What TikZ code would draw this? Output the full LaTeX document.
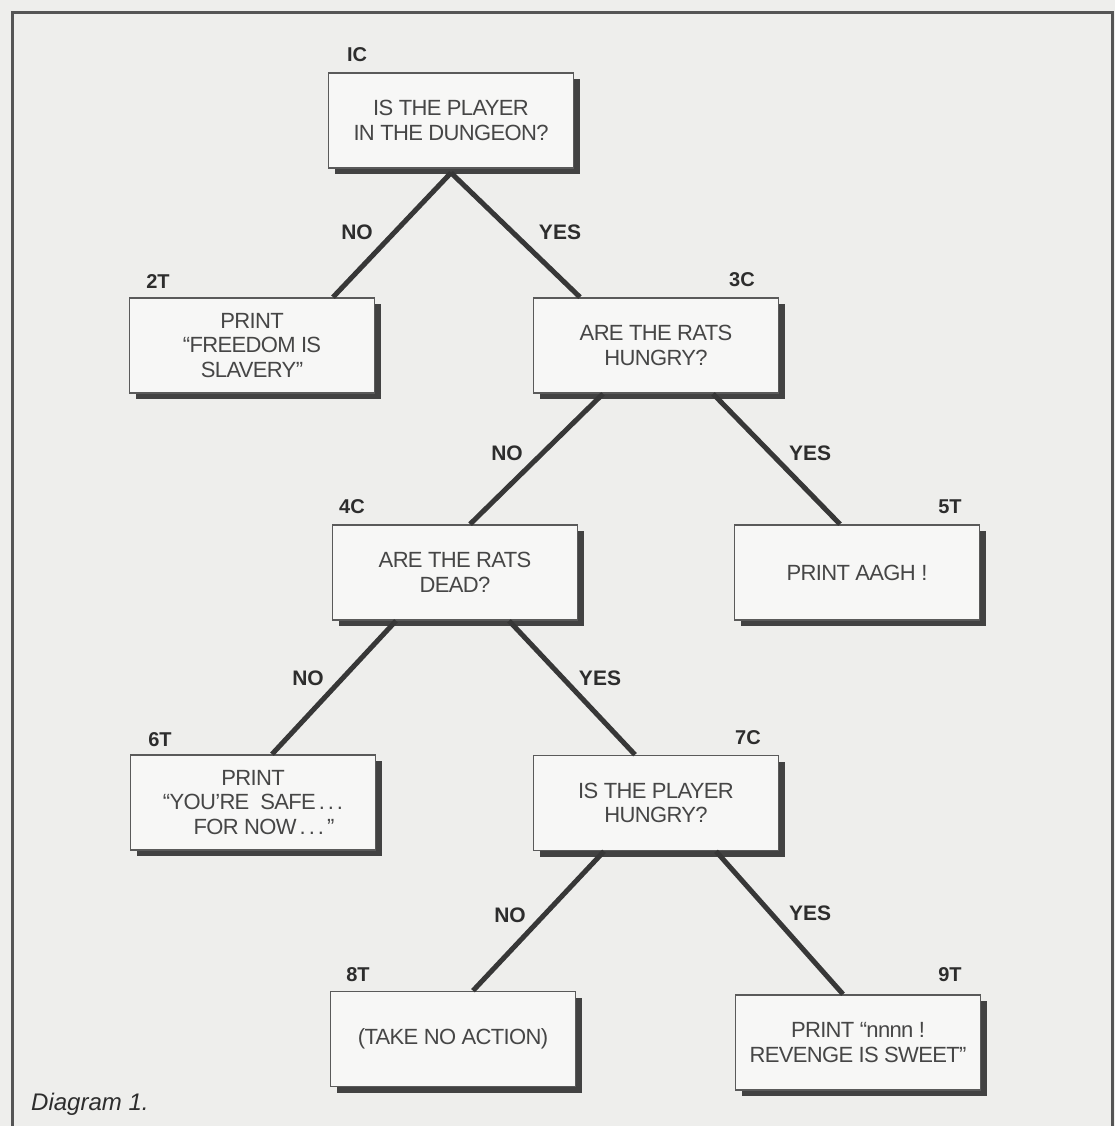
\documentclass[tikz,border=0pt]{standalone}
\usepackage{fontspec}
\setmainfont{Liberation Sans}
\usetikzlibrary{shadows}
\definecolor{bg}{RGB}{238,238,236}
\definecolor{boxfill}{RGB}{247,247,246}
\definecolor{boxline}{RGB}{90,90,90}
\definecolor{shade}{RGB}{66,66,66}
\definecolor{lin}{RGB}{55,55,55}
\definecolor{txt}{RGB}{70,70,70}
\definecolor{lab}{RGB}{45,45,45}
\definecolor{framec}{RGB}{85,85,85}
\newcommand{\dts}{\hspace{3pt}.\hspace{3pt}.\hspace{3pt}.}
\begin{document}
\begin{tikzpicture}[x=1pt,y=-1pt,
  box/.style={draw=boxline, line width=1.6pt, fill=boxfill,
    minimum width=245pt, minimum height=95pt, inner sep=0pt, align=center,
    font=\fontsize{22}{24.5}\selectfont\addfontfeature{LetterSpace=-3}, text=txt,
    drop shadow={shadow xshift=6pt, shadow yshift=-6pt, fill=shade, opacity=1}},
  idlab/.style={font=\fontsize{20}{22}\selectfont\bfseries, text=lab, inner sep=0pt},
  anslab/.style={font=\fontsize{21}{23}\selectfont\bfseries, text=lab, inner sep=0pt},
  conn/.style={draw=lin, line width=5pt},
  framel/.style={draw=framec, line width=3pt}]
\useasboundingbox (0,0) rectangle (1115,1126);
\fill[bg] (0,0) rectangle (1115,1126);
\draw[framel] (12,1140) -- (12,13) -- (1112,13) -- (1112,1140);

% boxes
\node[box] (ic) at (451,120.5) {IS THE PLAYER\\IN THE DUNGEON?};
\node[box] (n2t) at (252,345.5) {PRINT\\“FREEDOM IS\\SLAVERY”};
\node[box] (n3c) at (656,345.5) {ARE THE RATS\\HUNGRY?};
\node[box] (n4c) at (455,572.5) {ARE THE RATS\\DEAD?};
\node[box] (n5t) at (857,572.5) {PRINT AAGH !};
\node[box] (n6t) at (253,802.5) {PRINT\\“YOU'RE\ \ SAFE\dts\\\hspace*{22pt}FOR NOW\dts\hspace{3pt}”};
\node[box] (n7c) at (656,803) {IS THE PLAYER\\HUNGRY?};
\node[box] (n8t) at (453,1039) {(TAKE NO ACTION)};
\node[box] (n9t) at (858,1042.5) {PRINT “nnnn !\\REVENGE IS SWEET”};

% connectors
\coordinate (icb) at ([yshift=-4pt]ic.south);
\draw[conn] (icb) -- ([xshift=81pt]n2t.north);
\draw[conn] (icb) -- ([xshift=-76pt]n3c.north);
\draw[conn] ([xshift=-53pt]n3c.south) -- ([xshift=15pt]n4c.north);
\draw[conn] ([xshift=57pt]n3c.south) -- ([xshift=-17pt]n5t.north);
\draw[conn] ([xshift=-59pt]n4c.south) -- ([xshift=19pt]n6t.north);
\draw[conn] ([xshift=54pt]n4c.south) -- ([xshift=-21pt]n7c.north);
\draw[conn] ([xshift=-52pt]n7c.south) -- ([xshift=20pt]n8t.north);
\draw[conn] ([xshift=60pt]n7c.south) -- ([xshift=-15pt]n9t.north);

% id labels
\node[idlab] (lic) at (357,55) {IC};
\node[idlab] (l2t) at (158,282) {2T};
\node[idlab] (l3c) at (742,280) {3C};
\node[idlab] (l4c) at (352,507) {4C};
\node[idlab] (l5t) at (950,507) {5T};
\node[idlab] (l6t) at (160,740) {6T};
\node[idlab] (l7c) at (748,738) {7C};
\node[idlab] (l8t) at (358,975) {8T};
\node[idlab] (l9t) at (950,975) {9T};

% answer labels
\node[anslab] (a1) at (357,232) {NO};
\node[anslab] (a2) at (560,232) {YES};
\node[anslab] (a3) at (507,453) {NO};
\node[anslab] (a4) at (810,453) {YES};
\node[anslab] (a5) at (308,678) {NO};
\node[anslab] (a6) at (600,678) {YES};
\node[anslab] (a7) at (510,915) {NO};
\node[anslab] (a8) at (810,913) {YES};

\node[font=\fontsize{24}{26}\selectfont\itshape, text=lab, anchor=west, inner sep=0pt] (cap) at (31,1104) {Diagram 1.};
\end{tikzpicture}
\end{document}
